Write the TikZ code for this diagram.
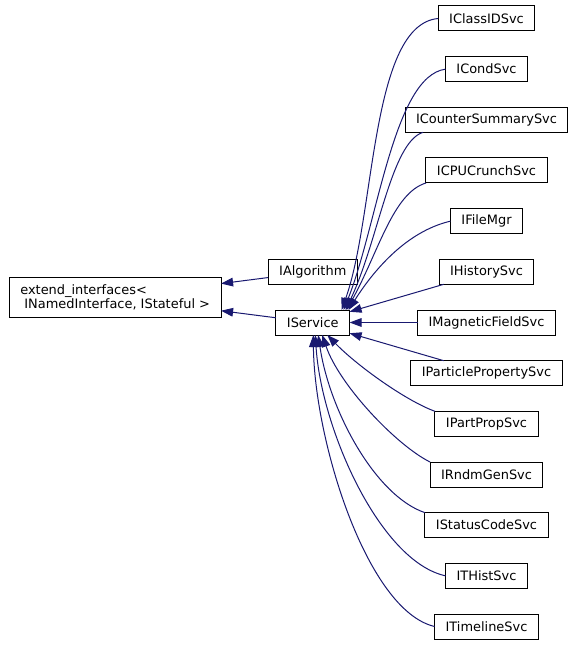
\documentclass[tikz,border=0pt]{standalone}
\usepackage{fontspec}
\setmainfont{DejaVu Sans}
\usetikzlibrary{arrows.meta,positioning,calc}
\definecolor{edgeBlue}{HTML}{191970}

\begin{document}
\begin{tikzpicture}[
  x=0.75pt,y=-0.75pt,
  node distance=19.25pt and 51pt,
  cls/.style={draw=black,line width=0.75pt,fill=white,outer sep=0pt,inner xsep=8.25pt,inner ysep=0pt,minimum height=18.75pt,font=\fontsize{9.7}{10.5}\selectfont},
  arrow/.style={-{Triangle[length=9pt,width=6.5pt]},draw=edgeBlue,line width=0.75pt}
]
\useasboundingbox (0,0) rectangle (573,645);
% derived classes
\node[cls] at (486.5,18.5) (clsid) {IClassIDSvc};
\node[cls,below=of clsid] (cond) {ICondSvc};
\node[cls,below=of cond] (cnt) {ICounterSummarySvc};
\node[cls,below=of cnt] (cpu) {ICPUCrunchSvc};
\node[cls,below=of cpu] (fmgr) {IFileMgr};
\node[cls,below=of fmgr] (hist) {IHistorySvc};
\node[cls,below=of hist] (mag) {IMagneticFieldSvc};
\node[cls,below=of mag] (ppsvc) {IParticlePropertySvc};
\node[cls,below=of ppsvc] (pprop) {IPartPropSvc};
\node[cls,below=of pprop] (rndm) {IRndmGenSvc};
\node[cls,below=of rndm] (stat) {IStatusCodeSvc};
\node[cls,below=of stat] (thist) {ITHistSvc};
\node[cls,below=of thist] (tline) {ITimelineSvc};
% bases
\node[cls,left=of mag] (svc) {IService};
\node[cls,above=of svc] (alg) {IAlgorithm};
\coordinate (algsvc) at ($(alg.west)!0.5!(svc.west)$);
\node[cls,align=left,minimum height=30pt,left=38.25pt of algsvc] (ext) {extend\_interfaces<\\~INamedInterface, IStateful >};
% inheritance edges
\draw[arrow] (alg) -- (ext);
\draw[arrow] (svc) -- (ext);
\draw[arrow] (clsid.west) .. controls +(-68,6) and +(34,-95) .. ([xshift=-6pt]svc.north east);
\draw[arrow] (cond.west) .. controls +(-52,7) and +(34,-85) .. ([xshift=-4.5pt]svc.north east);
\draw[arrow] ([xshift=13.5pt]cnt.south west) .. controls +(-32,10) and +(33,-70) .. ([xshift=-3pt]svc.north east);
\draw[arrow] (cpu.south west) .. controls +(-33,10) and +(32,-58) .. ([xshift=-2.25pt]svc.north east);
\draw[arrow] (fmgr.west) .. controls +(-45,10.5) and +(24,-38) .. ([xshift=-0.75pt]svc.north east);
\draw[arrow] (hist) -- (svc);
\draw[arrow] (mag) -- (svc);
\draw[arrow] (ppsvc) -- (svc);
\draw[arrow] (pprop.north west) .. controls +(-30,-11) and +(29,30) .. ([xshift=10.9pt]svc.south);
\draw[arrow] (rndm.north west) .. controls +(-34,-17) and +(17,50) .. ([xshift=7.1pt]svc.south);
\draw[arrow] (stat.north west) .. controls +(-50,-17) and +(11,75) .. ([xshift=4.1pt]svc.south);
\draw[arrow] (thist.west) .. controls +(-65,-14) and +(6,95) .. ([xshift=1.9pt]svc.south);
\draw[arrow] (tline.west) .. controls +(-68,-16) and +(1,105) .. ([xshift=0.4pt]svc.south);
\end{tikzpicture}
\end{document}
